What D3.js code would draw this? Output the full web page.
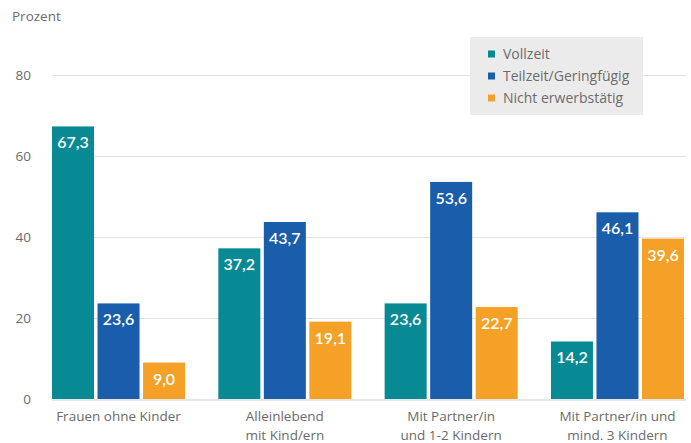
<!DOCTYPE html>
<meta charset="utf-8">
<title>Erwerbstätigkeit Frauen</title>
<script src="https://d3js.org/d3.v7.min.js"></script>
<style>
  body { margin: 0; background: #fff; }
  text { font-family: "Open Sans", sans-serif; }
  .axis-label { fill: #6b6b6b; font-size: 13.5px; }
  .value { fill: #fff; font-family: Lato, sans-serif; font-weight: 600; font-size: 16px; }
</style>
<body>
<div id="chart"></div>
<script>
// data
var categories = [["Frauen ohne Kinder"], ["Alleinlebend", "mit Kind/ern"],
                  ["Mit Partner/in", "und 1-2 Kindern"], ["Mit Partner/in und", "mind. 3 Kindern"]];
var seriesNames = ["Vollzeit", "Teilzeit/Geringfügig", "Nicht erwerbstätig"];
var vollzeit = [67.3, 37.2, 23.6, 14.2];
var teilzeit = [23.6, 43.7, 53.6, 46.1];
var nicht = [9.0, 19.1, 22.7, 39.6];
var yTicks = [0, 20, 40, 60, 80];
var colors = ["#078a93", "#1a5eab", "#f5a026"];

var series = [vollzeit, teilzeit, nicht];
var width = 691, height = 443;

var svg = d3.select("#chart").append("svg")
  .attr("width", width)
  .attr("height", height);

var y = d3.scaleLinear().domain([0, 80]).range([399, 75]);

var x = d3.scaleBand()
  .domain(d3.range(categories.length))
  .range([52, 684])
  .paddingInner(0.2)
  .paddingOuter(0);

var xs = d3.scaleBand()
  .domain(d3.range(series.length))
  .range([0, x.bandwidth()])
  .paddingInner(0.077);

// grid lines
svg.selectAll(".grid")
  .data(yTicks.filter(function(d) { return d > 0; }))
  .enter().append("line")
    .attr("x1", 52).attr("x2", 686)
    .attr("y1", function(d) { return y(d) + 0.5; })
    .attr("y2", function(d) { return y(d) + 0.5; })
    .attr("stroke", "#e3e3e3")
    .attr("stroke-width", 1);

svg.selectAll(".ytick")
  .data(yTicks)
  .enter().append("text")
    .attr("class", "axis-label")
    .attr("x", 31)
    .attr("y", function(d) { return y(d); })
    .attr("dy", "0.35em")
    .attr("text-anchor", "end")
    .text(function(d) { return d; });

svg.append("text")
  .attr("class", "axis-label")
  .attr("x", 12).attr("y", 21)
  .text("Prozent");

// legend
var legend = svg.append("g");
legend.append("rect")
  .attr("x", 470).attr("y", 37)
  .attr("width", 173).attr("height", 78)
  .attr("fill", "#ebebeb");

seriesNames.forEach(function(name, i) {
  var cy = 54 + i * 22;
  legend.append("rect")
    .attr("x", 488).attr("y", cy - 3.5)
    .attr("width", 7).attr("height", 7)
    .attr("fill", colors[i]);
  legend.append("text")
    .attr("x", 503).attr("y", cy)
    .attr("dy", "0.35em")
    .attr("fill", "#6b6b6b")
    .style("font-size", "14px")
    .text(name);
});

// bars
series.forEach(function(vals, s) {
  var g = svg.append("g");
  g.selectAll("rect")
    .data(vals)
    .enter().append("rect")
      .attr("x", function(d, i) { return x(i) + xs(s); })
      .attr("y", function(d) { return y(d); })
      .attr("width", xs.bandwidth())
      .attr("height", function(d) { return y(0) - y(d); })
      .attr("fill", colors[s]);

  g.selectAll("text")
    .data(vals)
    .enter().append("text")
      .attr("class", "value")
      .attr("x", function(d, i) { return x(i) + xs(s) + xs.bandwidth() / 2; })
      .attr("y", function(d) { return y(d) + 22; })
      .attr("text-anchor", "middle")
      .text(function(d) { return d.toFixed(1).replace(".", ","); });
});

// zero line
svg.append("line")
  .attr("x1", 52).attr("x2", 686)
  .attr("y1", y(0) + 1).attr("y2", y(0) + 1)
  .attr("stroke", "#e6e6e6")
  .attr("stroke-width", 2);

// category labels
categories.forEach(function(lines, i) {
  var t = svg.append("text")
    .attr("class", "axis-label")
    .attr("text-anchor", "middle")
    .attr("x", x(i) + x.bandwidth() / 2)
    .attr("y", 421);
  lines.forEach(function(l, j) {
    t.append("tspan")
      .attr("x", x(i) + x.bandwidth() / 2)
      .attr("dy", j === 0 ? 0 : 19)
      .text(l);
  });
});
</script>
</body>
